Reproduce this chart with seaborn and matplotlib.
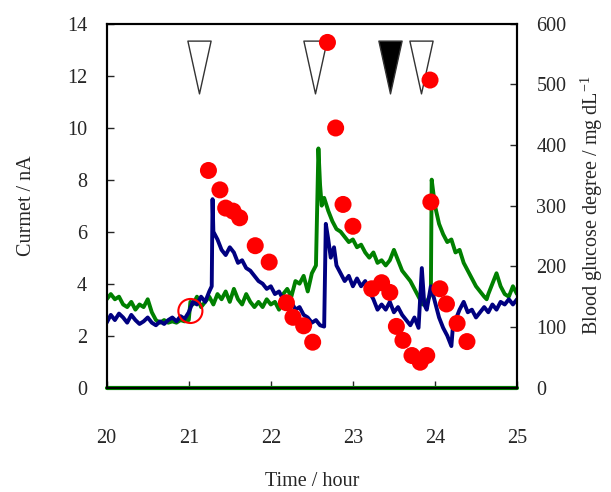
import numpy as np
import pandas as pd
import matplotlib
matplotlib.use("Agg")
import matplotlib.pyplot as plt
from matplotlib.path import Path
import seaborn as sns

# sensor current, blue trace (nA)
blue_time = [20.00, 20.05, 20.10, 20.15, 20.20, 20.25, 20.30, 20.35, 20.40, 20.45,
             20.50, 20.55, 20.60, 20.65, 20.70, 20.75, 20.80, 20.85, 20.90, 20.95,
             21.00, 21.05, 21.10, 21.15, 21.20, 21.25, 21.28, 21.29, 21.30, 21.35,
             21.40, 21.45, 21.50, 21.55, 21.60, 21.65, 21.70, 21.75, 21.80, 21.85,
             21.90, 21.95, 22.00, 22.05, 22.10, 22.15, 22.20, 22.25, 22.30, 22.35,
             22.40, 22.45, 22.50, 22.55, 22.60, 22.65, 22.67, 22.70, 22.73, 22.77,
             22.80, 22.85, 22.90, 22.95, 23.00, 23.05, 23.10, 23.15, 23.20, 23.25,
             23.30, 23.35, 23.40, 23.45, 23.50, 23.55, 23.60, 23.65, 23.70, 23.75,
             23.80, 23.84, 23.87, 23.90, 23.95, 24.00, 24.05, 24.10, 24.15, 24.20,
             24.22, 24.25, 24.30, 24.35, 24.40, 24.45, 24.50, 24.55, 24.60, 24.65,
             24.70, 24.75, 24.80, 24.85, 24.90, 24.95, 25.00]
blue_current = [2.5, 2.8, 2.6, 2.85, 2.7, 2.5, 2.8, 2.6, 2.45, 2.55,
                2.7, 2.5, 2.4, 2.55, 2.45, 2.6, 2.7, 2.55, 2.75, 2.65,
                2.9, 3.3, 3.2, 3.5, 3.3, 3.7, 3.9, 7.25, 6.0, 5.7,
                5.3, 5.1, 5.4, 5.2, 4.8, 4.9, 4.6, 4.5, 4.3, 4.1,
                4.0, 3.8, 3.9, 3.6, 3.7, 3.4, 3.2, 3.3, 3.0, 3.1,
                2.8, 2.7, 2.5, 2.6, 2.4, 2.35, 6.3, 5.7, 5.0, 5.4,
                4.7, 4.4, 4.1, 4.3, 3.9, 4.2, 3.9, 4.1, 3.7, 3.4,
                3.0, 3.2, 3.0, 3.3, 2.9, 3.1, 2.8, 2.6, 2.4, 2.7,
                2.3, 4.6, 3.2, 3.0, 3.9, 3.3, 2.7, 2.3, 2.0, 1.6,
                2.4, 2.6, 3.0, 3.3, 2.9, 3.0, 2.7, 2.9, 3.1, 2.9,
                3.2, 3.0, 3.3, 3.2, 3.4, 3.2, 3.4]

# sensor current, green trace (nA)
green_time = [20.00, 20.05, 20.10, 20.15, 20.20, 20.25, 20.30, 20.35, 20.40, 20.45,
              20.50, 20.55, 20.60, 20.65, 20.70, 20.75, 20.80, 20.85, 20.90, 20.95,
              21.00, 21.02, 21.05, 21.10, 21.15, 21.20, 21.25, 21.30, 21.35, 21.40,
              21.45, 21.50, 21.55, 21.60, 21.65, 21.70, 21.75, 21.80, 21.85, 21.90,
              21.95, 22.00, 22.05, 22.10, 22.15, 22.20, 22.25, 22.30, 22.35, 22.40,
              22.45, 22.50, 22.55, 22.58, 22.60, 22.62, 22.65, 22.70, 22.75, 22.80,
              22.85, 22.90, 22.95, 23.00, 23.05, 23.10, 23.15, 23.20, 23.25, 23.30,
              23.35, 23.40, 23.45, 23.50, 23.55, 23.60, 23.65, 23.70, 23.75, 23.80,
              23.85, 23.90, 23.95, 23.96, 24.00, 24.05, 24.10, 24.15, 24.20, 24.25,
              24.30, 24.35, 24.40, 24.45, 24.50, 24.55, 24.60, 24.63, 24.65, 24.70,
              24.75, 24.80, 24.85, 24.90, 24.95, 25.00]
green_current = [3.4, 3.6, 3.4, 3.5, 3.2, 3.1, 3.3, 3.0, 3.2, 3.1,
                 3.4, 2.9, 2.6, 2.5, 2.6, 2.5, 2.55, 2.5, 2.6, 2.55,
                 2.6, 3.3, 3.2, 3.5, 3.1, 3.3, 3.5, 3.2, 3.6, 3.4,
                 3.7, 3.3, 3.8, 3.4, 3.2, 3.6, 3.3, 3.1, 3.3, 3.1,
                 3.4, 3.2, 3.3, 3.0, 3.6, 3.8, 3.5, 4.1, 4.0, 4.3,
                 3.7, 4.4, 4.7, 9.2, 7.8, 7.0, 7.3, 6.8, 6.4, 6.1,
                 6.0, 5.8, 5.6, 5.7, 5.4, 5.5, 5.2, 5.0, 5.2, 4.8,
                 4.9, 4.7, 4.9, 5.3, 4.9, 4.5, 4.3, 4.1, 3.8, 3.5,
                 3.2, 3.3, 3.6, 8.0, 7.0, 6.3, 5.9, 5.6, 5.7, 5.2,
                 5.3, 4.8, 4.5, 4.2, 3.9, 3.7, 3.5, 3.4, 3.6, 4.0,
                 4.4, 3.9, 3.6, 3.5, 3.9, 3.6]

# blood glucose measurements (mg/dL)
glucose_time = [21.24, 21.38, 21.45, 21.54, 21.62, 21.81, 21.98, 22.19, 22.27, 22.40,
                22.51, 22.69, 22.79, 22.88, 23.00, 23.23, 23.35, 23.45, 23.53, 23.61,
                23.72, 23.82, 23.90, 23.94, 23.95, 24.06, 24.14, 24.27, 24.39]
glucose_value = [358, 326, 296, 291, 280, 234, 207, 140, 116, 102,
                 75, 569, 428, 302, 266, 163, 173, 157, 101, 78,
                 53, 42, 53, 507, 306, 163, 138, 106, 76]

# marked start point
start_time = [21.02]
start_current = [2.95]

# event markers (open = meal, filled = injection)
event_time = [21.12, 22.54, 23.45, 23.83]
event_filled = [False, False, True, False]
event_level = 12.32

df_blue = pd.DataFrame({"time": blue_time, "current": blue_current})
df_green = pd.DataFrame({"time": green_time, "current": green_current})
df_glu = pd.DataFrame({"time": glucose_time, "glucose": glucose_value})

sns.set_style("ticks")
plt.rcParams["font.family"] = ["Liberation Serif", "DejaVu Serif"]
plt.rcParams["mathtext.fontset"] = "custom"
plt.rcParams["mathtext.rm"] = "Liberation Serif"
plt.rcParams["font.size"] = 14.5

fig = plt.figure(figsize=(6.11, 4.92), dpi=100)
ax1 = fig.add_axes([0.1746, 0.212, 0.6716, 0.740])
ax2 = ax1.twinx()

sns.lineplot(data=df_green, x="time", y="current", ax=ax1, color="#008000",
             linewidth=2.8, estimator=None, sort=False)
sns.lineplot(data=df_blue, x="time", y="current", ax=ax1, color="#000080",
             linewidth=2.8, estimator=None, sort=False)
ax1.axhline(0, color="#008000", linewidth=3, clip_on=False, zorder=5)

sns.scatterplot(x=start_time, y=start_current, ax=ax1, s=300, facecolor="none",
                edgecolor="red", linewidth=1.5, zorder=6)

tri = Path([(-0.22, 0.5), (0.22, 0.5), (0.0, -0.5), (-0.22, 0.5)],
           [Path.MOVETO, Path.LINETO, Path.LINETO, Path.CLOSEPOLY])
for t, filled in zip(event_time, event_filled):
    ax1.plot([t], [event_level], marker=tri, markersize=38, linestyle="none",
             markerfacecolor="black" if filled else "white",
             markeredgecolor="#333333", markeredgewidth=1.0, zorder=4)

sns.scatterplot(data=df_glu, x="time", y="glucose", ax=ax2, s=150,
                color="#ff0000", edgecolor="none", zorder=5)

ax1.set_xlim(20, 25)
ax1.set_ylim(0, 14)
ax2.set_ylim(0, 600)
ax1.set_xticks(range(20, 26))
ax1.set_yticks(range(0, 15, 2))
ax2.set_yticks(range(0, 601, 100))

ax1.set_xlabel("Time / hour", fontsize=14.5, labelpad=17)
ax1.set_ylabel("Curmet / nA", fontsize=14.5, labelpad=22)
ax2.set_ylabel(r"Blood glucose degree / mg dL$^{-1}$", fontsize=14.5, labelpad=8)

ax1.tick_params(axis="x", direction="in", length=5, width=1, pad=30, labelsize=14.5)
ax1.tick_params(axis="y", direction="in", length=5, width=1, pad=14, labelsize=14.5)
ax2.tick_params(axis="y", direction="in", length=5, width=1, pad=14, labelsize=14.5)

for ax in (ax1, ax2):
    for sp in ax.spines.values():
        sp.set_visible(True)
        sp.set_linewidth(1.5)
        sp.set_color("black")

fig.savefig("out.png", dpi=100)
